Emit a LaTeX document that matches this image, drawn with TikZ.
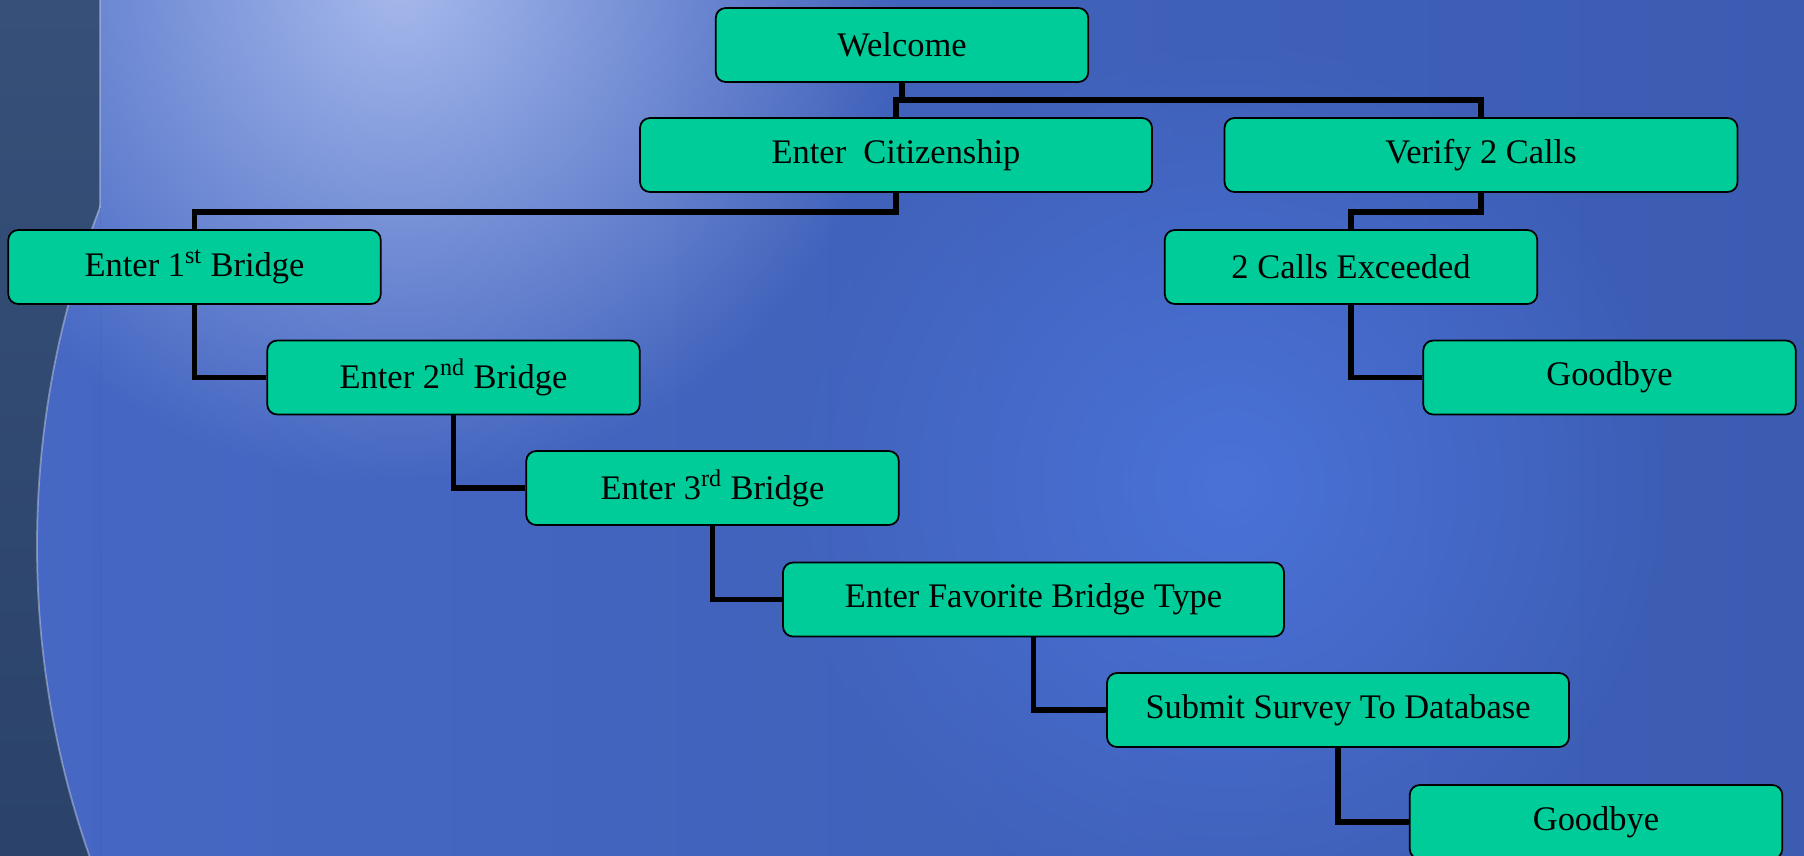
\documentclass[tikz,border=0pt]{standalone}
\usepackage{fontspec}
\setmainfont{Liberation Serif}
\usetikzlibrary{fadings}
\definecolor{boxgreen}{HTML}{00CC99}
\definecolor{bgleft}{HTML}{4668C4}
\definecolor{bgright}{HTML}{3C5CB2}
\definecolor{bglight}{HTML}{A6B9EC}
\definecolor{bgglow}{HTML}{4A72D8}
\definecolor{bandtop}{HTML}{3C5680}
\definecolor{bandbot}{HTML}{22395E}
\tikzfading[name=glow,inner color=transparent!0,outer color=transparent!100]
\tikzset{
  screen/.style={draw=black,line width=1pt,fill=boxgreen,rounded corners=0.2cm,
    minimum width=7.45cm,minimum height=1.48cm,inner sep=0pt,
    font=\fontsize{19.6}{23}\selectfont},
  link/.style={line width=3.2pt}
}
\begin{document}
\begin{tikzpicture}[line join=miter]
    \useasboundingbox (0,0) rectangle (36.08,-17.12);
    % background
    \begin{scope}
        \clip (0,0) rectangle (36.08,-17.12);
        \shade[left color=bgleft,right color=bgright] (0,0) rectangle (36.08,-17.12);
        \fill[bgglow,path fading=glow] (24.6,-9.7) circle (9);
        \fill[bglight,path fading=glow] (8,0.3) circle (10);
    \end{scope}
    \begin{scope}
        \clip (0,0) rectangle (2,-17.12);
        \shade[top color=bandtop,bottom color=bandbot,even odd rule] (0,0) rectangle (2,-17.12) (19.5,-10.92) circle (18.76);
        \draw[white,opacity=0.35,line width=1pt] (19.5,-10.92) circle (18.76);
    \end{scope}
    \draw[white,opacity=0.3,line width=1pt] (2,0)--(2,-4.16);
    % screens
    \node[screen] (welcome) at (18.04,-0.9) {Welcome};
    \node[screen,minimum width=10.24cm] (citizen) at (17.92,-3.1) {Enter~~Citizenship};
    \node[screen,minimum width=10.26cm] (verify) at (29.62,-3.1) {Verify 2 Calls};
    \node[screen] (bridge1) at (3.89,-5.34) {Enter 1\textsuperscript{st} Bridge};
    \node[screen] (exceeded) at (27.02,-5.34) {2 Calls Exceeded};
    \node[screen] (bridge2) at (9.07,-7.55) {Enter 2\textsuperscript{nd} Bridge};
    \node[screen] (byeA) at (32.19,-7.55) {Goodbye};
    \node[screen] (bridge3) at (14.25,-9.76) {Enter 3\textsuperscript{rd} Bridge};
    \node[screen,minimum width=10.02cm] (favtype) at (20.67,-11.99) {Enter Favorite Bridge Type};
    \node[screen,minimum width=9.24cm] (submit) at (26.76,-14.2) {Submit Survey To Database};
    \node[screen] (byeB) at (31.92,-16.44) {Goodbye};
    % links
    \coordinate (wfork) at (18.04,-2.0);
    \coordinate (cfork) at (17.92,-4.24);
    \coordinate (vfork) at (29.62,-4.24);
    \draw[link] (welcome) -- (wfork) -| (verify);
    \draw[link] (wfork) -| (citizen);
    \draw[link] (citizen) -- (cfork) -| (bridge1);
    \draw[link] (verify) -- (vfork) -| (exceeded);
    \draw[link] (exceeded) |- (byeA);
    \draw[link] (bridge1) |- (bridge2);
    \draw[link] (bridge2) |- (bridge3);
    \draw[link] (bridge3) |- (favtype);
    \draw[link] (favtype) |- (submit);
    \draw[link] (submit) |- (byeB);
\end{tikzpicture}
\end{document}
